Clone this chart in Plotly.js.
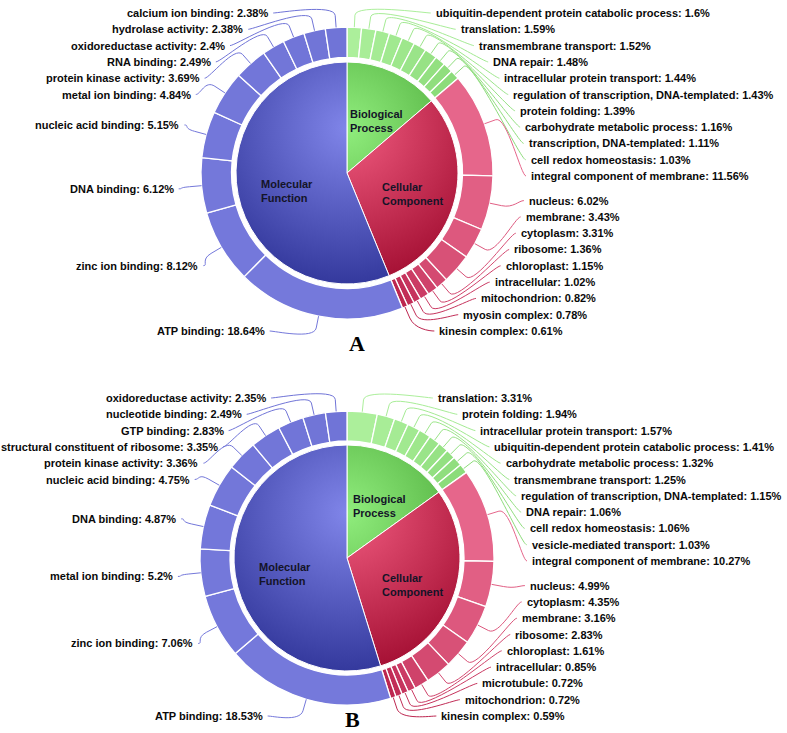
<!DOCTYPE html>
<html>
<head>
<meta charset="utf-8">
<script src="https://cdn.plot.ly/plotly-3.0.1.min.js"></script>
<style>
  html, body { margin: 0; padding: 0; background: #fff; }
  #chart { width: 787px; height: 733px; }
</style>
</head>
<body>
<div id="chart"></div>
<script>
// categories (inner pie)
var cats = ['Biological<br>Process', 'Cellular<br>Component', 'Molecular<br>Function'];

// panel A
var bpNamesA = ['ubiquitin-dependent protein catabolic process', 'translation', 'transmembrane transport', 'DNA repair',
  'intracellular protein transport', 'regulation of transcription, DNA-templated', 'protein folding',
  'carbohydrate metabolic process', 'transcription, DNA-templated', 'cell redox homeostasis'];
var bpValsA = [1.6, 1.59, 1.52, 1.48, 1.44, 1.43, 1.39, 1.16, 1.11, 1.03];
var ccNamesA = ['integral component of membrane', 'nucleus', 'membrane', 'cytoplasm', 'ribosome', 'chloroplast',
  'intracellular', 'mitochondrion', 'myosin complex', 'kinesin complex'];
var ccValsA = [11.56, 6.02, 3.43, 3.31, 1.36, 1.15, 1.02, 0.82, 0.78, 0.61];
var mfNamesA = ['ATP binding', 'zinc ion binding', 'DNA binding', 'nucleic acid binding', 'metal ion binding',
  'protein kinase activity', 'RNA binding', 'oxidoreductase activity', 'hydrolase activity', 'calcium ion binding'];
var mfValsA = [18.64, 8.12, 6.12, 5.15, 4.84, 3.69, 2.49, 2.4, 2.38, 2.38];

// panel B
var bpNamesB = ['translation', 'protein folding', 'intracellular protein transport',
  'ubiquitin-dependent protein catabolic process', 'carbohydrate metabolic process', 'transmembrane transport',
  'regulation of transcription, DNA-templated', 'DNA repair', 'cell redox homeostasis', 'vesicle-mediated transport'];
var bpValsB = [3.31, 1.94, 1.57, 1.41, 1.32, 1.25, 1.15, 1.06, 1.06, 1.03];
var ccNamesB = ['integral component of membrane', 'nucleus', 'cytoplasm', 'membrane', 'ribosome', 'chloroplast',
  'intracellular', 'microtubule', 'mitochondrion', 'kinesin complex'];
var ccValsB = [10.27, 4.99, 4.35, 3.16, 2.83, 1.61, 0.85, 0.72, 0.72, 0.59];
var mfNamesB = ['ATP binding', 'zinc ion binding', 'metal ion binding', 'DNA binding', 'nucleic acid binding',
  'protein kinase activity', 'structural constituent of ribosome', 'GTP binding', 'nucleotide binding',
  'oxidoreductase activity'];
var mfValsB = [18.53, 7.06, 5.2, 4.87, 4.75, 3.36, 3.35, 2.83, 2.49, 2.35];

var W = 787, H = 733;
var FONT = 'Liberation Sans, Arial, sans-serif';

// inner colours (radial gradient from base to darker), outer ring ramps
var baseColors = ['#90ed7d', '#f15c80', '#8085e9'];
var fallback = ['#7fdc6c', '#d0345e', '#5a60cc'];
var ringFrom = ['#acef9b', '#e6668b', '#7579db'];
var ringTo = ['#8cdc7a', '#bd2650', '#7074d7'];

var panels = [
  {tag: 'A', cx: 347, cy: 173, rPie: 111, rIn: 115.5, rOut: 146, tagX: 357, tagY: 343,
    groups: [[bpNamesA, bpValsA], [ccNamesA, ccValsA], [mfNamesA, mfValsA]]},
  {tag: 'B', cx: 347, cy: 558, rPie: 113, rIn: 117, rOut: 147, tagX: 352, tagY: 733,
    groups: [[bpNamesB, bpValsB], [ccNamesB, ccValsB], [mfNamesB, mfValsB]]}
];

var measure = document.createElement('canvas').getContext('2d');
measure.font = 'bold 11px "Liberation Sans", Arial, sans-serif';

function hexRgb(h) {
  return [parseInt(h.substr(1, 2), 16), parseInt(h.substr(3, 2), 16), parseInt(h.substr(5, 2), 16)];
}
function mix(a, b, t) {
  var p = hexRgb(a), q = hexRgb(b);
  return 'rgb(' + [0, 1, 2].map(function (k) { return Math.round(p[k] + (q[k] - p[k]) * t); }).join(',') + ')';
}
function darken(h, d) {
  return 'rgb(' + hexRgb(h).map(function (v) { return Math.max(0, Math.round(v - 255 * d)); }).join(',') + ')';
}
function fx(x) { return x / W; }
function fy(y) { return 1 - y / H; }
function pt(x, y) { return fx(x).toFixed(5) + ',' + fy(y).toFixed(5); }

// spread labels so they keep a minimum gap, staying close to their targets
function distribute(targets, lo, hi, gap) {
  var clusters = targets.map(function (t, i) { return {m: [i], pos: t}; });
  function place(c) {
    var s = 0;
    c.m.forEach(function (idx, k) { s += targets[idx] - k * gap; });
    c.pos = Math.max(lo, Math.min(hi - (c.m.length - 1) * gap, s / c.m.length));
  }
  clusters.forEach(place);
  var changed = true;
  while (changed) {
    changed = false;
    for (var i = 0; i < clusters.length - 1; i++) {
      var a = clusters[i], b = clusters[i + 1];
      if (a.pos + a.m.length * gap > b.pos + 0.01) {
        a.m = a.m.concat(b.m);
        clusters.splice(i + 1, 1);
        place(a);
        changed = true;
        break;
      }
    }
  }
  var out = [];
  clusters.forEach(function (c) { c.m.forEach(function (idx, k) { out[idx] = c.pos + k * gap; }); });
  return out;
}

var traces = [], annotations = [], shapes = [];

panels.forEach(function (p) {
  var names = [], vals = [], cols = [], catSums = [];
  p.groups.forEach(function (g, gi) {
    var s = 0;
    g[1].forEach(function (v, k) {
      names.push(g[0][k]);
      vals.push(v);
      cols.push(mix(ringFrom[gi], ringTo[gi], g[1].length > 1 ? k / (g[1].length - 1) : 0));
      s += v;
    });
    catSums.push(s);
  });
  var total = vals.reduce(function (a, b) { return a + b; }, 0);

  p.innerIndex = traces.length;
  traces.push({
    type: 'pie', values: catSums, labels: cats, sort: false, direction: 'clockwise', rotation: 0,
    textinfo: 'none', hoverinfo: 'skip', showlegend: false,
    marker: {colors: fallback, line: {color: '#ffffff', width: 1}},
    domain: {x: [fx(p.cx - p.rPie), fx(p.cx + p.rPie)], y: [fy(p.cy + p.rPie), fy(p.cy - p.rPie)]}
  });
  traces.push({
    type: 'pie', values: vals, labels: names, sort: false, direction: 'clockwise', rotation: 0,
    hole: p.rIn / p.rOut, textinfo: 'none', hoverinfo: 'skip', showlegend: false,
    marker: {colors: cols, line: {color: '#ffffff', width: 1.3}},
    domain: {x: [fx(p.cx - p.rOut), fx(p.cx + p.rOut)], y: [fy(p.cy + p.rOut), fy(p.cy - p.rOut)]}
  });

  // category labels inside the pie
  var cum = 0;
  catSums.forEach(function (s, k) {
    var a = (cum + s / 2) / total * 2 * Math.PI;
    cum += s;
    var r = 0.58 * p.rPie;
    annotations.push({
      xref: 'paper', yref: 'paper', x: fx(p.cx + r * Math.sin(a) + 3), y: fy(p.cy - r * Math.cos(a) + 6),
      xanchor: 'center', yanchor: 'middle', align: 'left', showarrow: false, text: cats[k],
      font: {family: FONT, size: 11, color: '#141428', weight: 'bold'}
    });
  });

  // outer labels with connectors
  var RL = p.rOut + 36;
  var right = [], left = [];
  cum = 0;
  vals.forEach(function (v, i) {
    var a = (cum + v / 2) / total * 2 * Math.PI;
    cum += v;
    var item = {i: i, a: a, target: p.cy - RL * Math.cos(a)};
    (a < Math.PI ? right : left).push(item);
  });
  [[right, 1], [left, -1]].forEach(function (side) {
    var list = side[0].slice().sort(function (u, w) { return u.target - w.target; });
    var dir = side[1];
    var ys = distribute(list.map(function (u) { return u.target; }), p.cy - 160, p.cy + 158, 16.3);
    list.forEach(function (u, k) {
      var y = ys[k];
      var dy = y - p.cy;
      var dx = Math.sqrt(Math.max(0, RL * RL - dy * dy));
      var txt = names[u.i] + ': ' + vals[u.i] + '%';
      var tx = dir > 0 ? p.cx + dx : p.cx - dx + 10;
      if (dir < 0) {
        // keep left labels inside the picture
        var tw = measure.measureText(txt).width;
        if (tx - tw < 3) tx = tw + 3;
      }
      annotations.push({
        xref: 'paper', yref: 'paper', x: fx(tx), y: fy(y), xanchor: dir > 0 ? 'left' : 'right', yanchor: 'middle',
        showarrow: false, text: txt,
        font: {family: FONT, size: 11, color: '#0a0a0a', weight: 'bold'}
      });
      var ax = tx - dir * 3;
      var sx = Math.sin(u.a), sy = -Math.cos(u.a);
      var tX = p.cx + p.rOut * sx, tY = p.cy + p.rOut * sy;
      var bX = p.cx + (p.rOut + 12) * sx, bY = p.cy + (p.rOut + 12) * sy;
      var path = 'M' + pt(ax, y) + ' C' + pt(ax - dir * 5, y) + ' ' + pt(2 * bX - tX, 2 * bY - tY) + ' ' +
        pt(bX, bY) + ' L' + pt(tX, tY);
      shapes.push({type: 'path', xref: 'paper', yref: 'paper', path: path,
        line: {color: cols[u.i], width: 1}});
    });
  });

  annotations.push({
    xref: 'paper', yref: 'paper', x: fx(p.tagX), y: fy(p.tagY), xanchor: 'center',
    yanchor: p.tagY >= H ? 'bottom' : 'middle', borderpad: 0,
    showarrow: false, text: p.tag,
    font: {family: 'Liberation Serif, Times New Roman, serif', size: 22, color: '#000000', weight: 'bold'}
  });
});

var layout = {
  width: W, height: H,
  margin: {l: 0, r: 0, t: 0, b: 0},
  paper_bgcolor: '#ffffff',
  showlegend: false,
  annotations: annotations,
  shapes: shapes
};

Plotly.newPlot('chart', traces, layout, {staticPlot: true}).then(function (gd) {
  // radial gradient fill on the inner pies
  var NS = 'http://www.w3.org/2000/svg';
  var svg = gd.querySelector('svg.main-svg');
  var defs = document.createElementNS(NS, 'defs');
  svg.insertBefore(defs, svg.firstChild);
  var groups = gd.querySelectorAll('.pielayer .trace');
  panels.forEach(function (p, pi) {
    var g = groups[p.innerIndex];
    if (!g) return;
    var D = 2 * p.rPie;
    g.querySelectorAll('path.surface').forEach(function (path, k) {
      var id = 'pieGrad' + pi + '_' + k;
      var rg = document.createElementNS(NS, 'radialGradient');
      rg.setAttribute('id', id);
      rg.setAttribute('gradientUnits', 'userSpaceOnUse');
      rg.setAttribute('cx', p.cx);
      rg.setAttribute('cy', p.cy - 0.2 * D);
      rg.setAttribute('r', 0.7 * D);
      [[0, baseColors[k]], [1, darken(baseColors[k], 0.3)]].forEach(function (st) {
        var s = document.createElementNS(NS, 'stop');
        s.setAttribute('offset', st[0]);
        s.setAttribute('stop-color', st[1]);
        rg.appendChild(s);
      });
      defs.appendChild(rg);
      path.style.fill = 'url(#' + id + ')';
    });
  });
});
</script>
</body>
</html>
